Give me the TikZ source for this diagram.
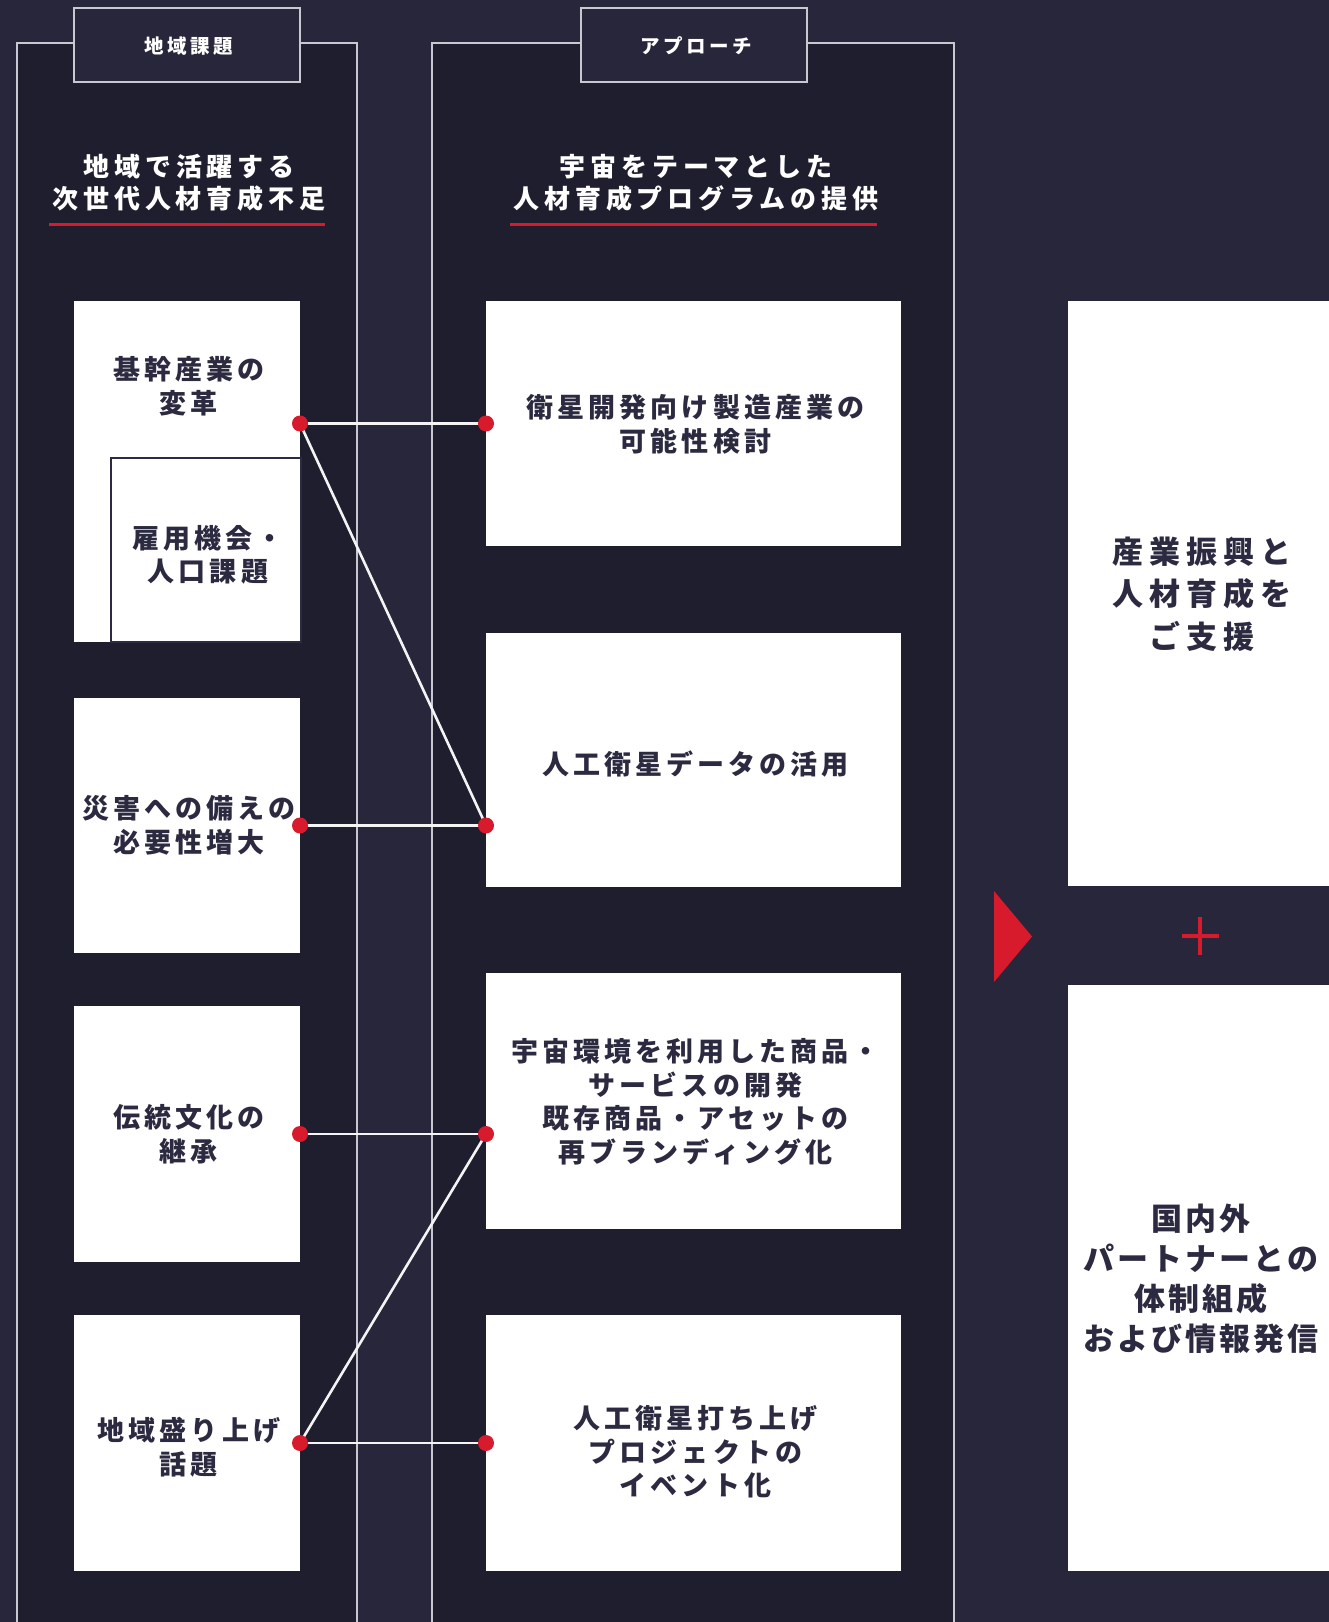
\documentclass[tikz,border=0pt]{standalone}
\usepackage{fontspec}
\newfontfamily\jpb[LetterSpace=15]{Noto Sans CJK JP}
\newfontfamily\jpt[LetterSpace=19]{Noto Sans CJK JP}
\newfontfamily\jph[LetterSpace=18]{Noto Sans CJK JP}
\newfontfamily\jpra[LetterSpace=19]{Noto Sans CJK JP}
\newfontfamily\jprb[LetterSpace=10]{Noto Sans CJK JP}
\definecolor{bg}{HTML}{27263B}
\definecolor{panel}{HTML}{1F1E2F}
\definecolor{ink}{HTML}{2B2A40}
\definecolor{rd}{HTML}{D81B2C}
\definecolor{frame}{HTML}{C8C8D0}
\tikzset{
  wbox/.style={fill=white, draw=none, inner sep=0pt, outer sep=0pt},
  btxt/.style={text=ink, align=center, font=\jpb\bfseries\fontsize{27}{33.5}\selectfont},
  rtxta/.style={text=ink, align=center, font=\jpra\bfseries\fontsize{31}{42.5}\selectfont},
  rtxtb/.style={text=ink, align=center, font=\jprb\bfseries\fontsize{31}{40}\selectfont},
  ttl/.style={text=white, align=center, font=\jpt\bfseries\fontsize{26}{32}\selectfont},
  hdr/.style={fill=bg, draw=frame, line width=1.5pt, inner sep=0pt, outer sep=0pt},
  htxt/.style={text=white, font=\jph\bfseries\fontsize{19.5}{22}\selectfont},
  pnl/.style={fill=panel, draw=frame, line width=1.5pt},
  conn/.style={draw=white!95!ink, line width=2.6pt},
  rdot/.style={circle, fill=rd, inner sep=0pt, minimum size=16pt},
  uline/.style={draw=rd, line width=3pt}
}
\begin{document}
\begin{tikzpicture}[x=1pt,y=-1pt]
\useasboundingbox (0,0) rectangle (1329,1622);
\clip (0,0) rectangle (1329,1622);
\fill[bg] (0,0) rectangle (1329,1622);

% panels
\draw[pnl] (17,43) rectangle (357,1640);
\draw[pnl] (432,43) rectangle (954,1640);

% headers
\node[hdr, minimum width=226pt, minimum height=74pt] (h1) at (187,45) {};
\node[htxt] at (189,46) {地域課題};
\node[hdr, minimum width=226pt, minimum height=74pt] (h2) at (694,45) {};
\node[htxt] at (696,46) {アプローチ};

% titles
\node[ttl] (t1) at (189,183) {地域で活躍する\\次世代人材育成不足};
\draw[uline] (49,224) -- (325,224);
\node[ttl] (t2) at (696,183) {宇宙をテーマとした\\人材育成プログラムの提供};
\draw[uline] (510,224) -- (877,224);

% left boxes
\node[wbox, minimum width=226pt, minimum height=341pt] (L1) at (187,471.5) {};
\node[btxt] (L1t) at (189,386) {基幹産業の\\変革};
\draw[fill=white, draw=ink, line width=2pt] (111,458) rectangle (301,642);
\node[btxt] (L1bt) at (208,555) {雇用機会・\\人口課題};
\node[wbox, minimum width=226pt, minimum height=255pt] (L2) at (187,825.5) {};
\node[btxt] at ([xshift=2pt]L2.center) {災害への備えの\\必要性増大};
\node[wbox, minimum width=226pt, minimum height=256pt] (L3) at (187,1134) {};
\node[btxt] at ([xshift=2pt]L3.center) {伝統文化の\\継承};
\node[wbox, minimum width=226pt, minimum height=256pt] (L4) at (187,1443) {};
\node[btxt] at ([xshift=2pt,yshift=-4pt]L4.center) {地域盛り上げ\\話題};

% middle boxes
\node[wbox, minimum width=415pt, minimum height=245pt] (A) at (693.5,423.5) {};
\node[btxt] at ([xshift=2pt,yshift=-1pt]A.center) {衛星開発向け製造産業の\\可能性検討};
\node[wbox, minimum width=415pt, minimum height=254pt] (B) at (693.5,760) {};
\node[btxt] at ([xshift=2pt,yshift=-4pt]B.center) {人工衛星データの活用};
\node[wbox, minimum width=415pt, minimum height=256pt] (C) at (693.5,1101) {};
\node[btxt] at ([xshift=2pt,yshift=-1pt]C.center) {宇宙環境を利用した商品・\\サービスの開発\\既存商品・アセットの\\再ブランディング化};
\node[wbox, minimum width=415pt, minimum height=256pt] (D) at (693.5,1443) {};
\node[btxt] at ([xshift=2pt,yshift=-9pt]D.center) {人工衛星打ち上げ\\プロジェクトの\\イベント化};

% right boxes
\node[wbox, minimum width=261pt, minimum height=585pt] (R1) at (1198.5,593.5) {};
\node[rtxta] at (1202,594) {産業振興と\\人材育成を\\ご支援};
\node[wbox, minimum width=261pt, minimum height=586pt] (R2) at (1198.5,1278) {};
\node[rtxtb] at (1201,1279) {国内外\\パートナーとの\\体制組成\\および情報発信};

% arrow and plus
\fill[rd] (994,891) -- (1032,936.5) -- (994,982) -- cycle;
\draw[rd, line width=4.5pt] (1182,936) -- (1219,936);
\draw[rd, line width=4.5pt] (1200,917) -- (1200,955);

% connector end points
\coordinate (p1) at (L1.east |- A.west);
\coordinate (pA) at (A.west);
\coordinate (p2) at (L2.east);
\coordinate (pB) at (B.west |- L2.east);
\coordinate (p3) at (L3.east);
\coordinate (pC) at (C.west |- L3.east);
\coordinate (p4) at (L4.east);
\coordinate (pD) at (D.west);

\draw[conn] (p1) -- (pA);
\draw[conn] (p1) -- (pB);
\draw[conn] (p2) -- (pB);
\draw[conn] (p3) -- (pC);
\draw[conn] (p4) -- (pC);
\draw[conn] (p4) -- (pD);

\foreach \p in {p1,pA,p2,pB,p3,pC,p4,pD} \node[rdot] at (\p) {};
\end{tikzpicture}
\end{document}
